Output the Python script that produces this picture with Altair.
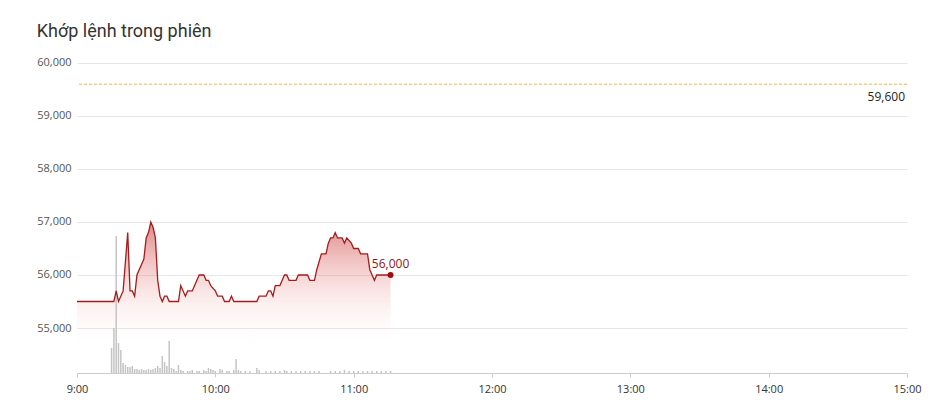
import altair as alt
import pandas as pd

# minutes after 9:00 and matched price
price_minutes = [0, 16, 17, 18, 20, 22, 23, 24, 25, 26, 29, 30, 31, 32, 33, 34, 35, 36, 37, 38, 39, 40,
                 44, 45, 47, 48, 50, 51, 52, 53, 55, 56, 57, 58, 60, 61, 63, 64, 66, 67, 68, 78, 79,
                 82, 83, 84, 85, 86, 88, 89, 90, 91, 92, 95, 96, 100, 101, 103, 104, 106, 108, 109,
                 110, 111, 112, 113, 115, 116, 117, 119, 120, 122, 123, 126, 127, 128, 129, 130, 136]
price_values = [55500, 55500, 55700, 55500, 55700, 56800, 55700, 55700, 55600, 56000, 56300, 56700,
                56800, 57000, 56900, 56700, 55900, 55600, 55500, 55600, 55600, 55500,
                55500, 55800, 55600, 55700, 55700, 55800, 55900, 56000, 56000, 55900, 55900, 55800,
                55700, 55600, 55600, 55500, 55500, 55600, 55500, 55500, 55600,
                55600, 55700, 55700, 55600, 55800, 55800, 55900, 56000, 56000, 55900, 55900, 56000,
                56000, 55900, 55900, 56100, 56400, 56400, 56600,
                56700, 56700, 56800, 56700, 56700, 56600, 56700, 56600, 56500, 56500, 56400, 56400,
                56100, 56000, 55900, 56000, 56000]

# volume per minute (shares)
vol_minutes = [15, 16, 17, 18, 19, 20, 21, 22, 23, 24, 25, 26, 27, 28, 29, 30, 31, 32, 33, 34, 35, 36,
               37, 38, 39, 40, 41, 42, 43, 44, 45, 46, 48, 49, 50, 52, 53, 55, 56, 57, 58, 59, 60,
               62, 63, 65, 66, 68, 69, 70, 71, 73, 75, 78, 79, 82, 84, 86, 88, 90, 91, 93, 95, 97,
               99, 101, 103, 105, 110, 112, 114, 116, 118, 120, 122, 124, 126, 128, 130, 132, 134, 136]
vol_values = [25000, 45000, 137000, 30000, 23000, 10000, 8000, 6000, 6000, 7000, 4000, 4000, 3000,
              4000, 3000, 3000, 4000, 3000, 4000, 5000, 7000, 5000,
              17000, 11000, 7000, 32000, 5000, 4000, 2000, 8000, 3000, 2000, 2000, 2000, 3000, 2000,
              2000, 3000, 2000, 5000, 4000, 3000, 2000,
              4000, 3000, 2000, 2000, 3000, 14000, 3000, 2000, 2000, 2000, 5000, 3000, 2000, 2000,
              2000, 2000, 3000, 2000, 2000, 2000, 2000,
              2000, 2000, 2000, 2000, 2000, 2000, 2000, 3000, 2000, 2000, 2000, 2000, 2000, 2000,
              2000, 2000, 2000, 2000]

ref_price = 59600
y_min, y_max = 54151, 60396
x_tick_minutes = [0, 60, 120, 180, 240, 300, 360]
y_ticks = [55000, 56000, 57000, 58000, 59000, 60000]

price_df = pd.DataFrame({"m": price_minutes, "price": price_values})
vol_df = pd.DataFrame({"m": vol_minutes, "vol": vol_values})
last_df = price_df.tail(1)
ref_df = pd.DataFrame({"price": [ref_price], "m": [360]})

x_scale = alt.Scale(domain=[0, 360], nice=False, padding=0)
y_scale = alt.Scale(domain=[y_min, y_max], nice=False, zero=False)

x_axis = alt.Axis(values=x_tick_minutes,
                  labelExpr="floor(datum.value/60)+9 + ':00'",
                  grid=False, domainColor="#cccccc", tickColor="#cccccc", tickSize=4,
                  labelColor="#333333", labelFontSize=11, labelFont="Open Sans",
                  labelPadding=6, title=None, labelFlush=False)
y_axis = alt.Axis(values=y_ticks, format=",d", grid=True, gridColor="#e6e6e6",
                  ticks=False, domain=False, labelColor="#555555", labelFontSize=11,
                  labelFont="Open Sans", labelPadding=6, title=None)

gradient = alt.Gradient(
    gradient="linear",
    stops=[alt.GradientStop(color="rgba(200,50,50,0.58)", offset=0),
           alt.GradientStop(color="rgba(230,120,120,0.2)", offset=0.45),
           alt.GradientStop(color="rgba(255,255,255,0)", offset=0.85)],
    x1=1, x2=1, y1=0, y2=1)

area = alt.Chart(price_df).mark_area(fill=gradient, stroke=None, opacity=1).encode(
    x=alt.X("m:Q", scale=x_scale, axis=x_axis),
    y=alt.Y("price:Q", scale=y_scale, axis=y_axis),
    y2=alt.datum(y_min),
)

line = alt.Chart(price_df).mark_line(color="#a51c1c", strokeWidth=1.3).encode(
    x=alt.X("m:Q", scale=x_scale),
    y=alt.Y("price:Q", scale=y_scale, axis=None),
)

ref_rule = alt.Chart(ref_df).mark_rule(color="#f5b342", strokeDash=[3, 2], strokeWidth=1).encode(
    y=alt.Y("price:Q", scale=y_scale, axis=None),
)
ref_text = alt.Chart(ref_df).mark_text(align="right", dx=-2, dy=13, fontSize=12,
                                       font="Open Sans", color="#222222").encode(
    x=alt.X("m:Q", scale=x_scale),
    y=alt.Y("price:Q", scale=y_scale, axis=None),
    text=alt.Text("price:Q", format=",d"),
)

dot = alt.Chart(last_df).mark_point(filled=True, size=36, color="#a00d0d", opacity=1).encode(
    x=alt.X("m:Q", scale=x_scale),
    y=alt.Y("price:Q", scale=y_scale, axis=None),
)
dot_text = alt.Chart(last_df).mark_text(dy=-11, fontSize=12, font="Open Sans",
                                        color="#8b1a1a").encode(
    x=alt.X("m:Q", scale=x_scale),
    y=alt.Y("price:Q", scale=y_scale, axis=None),
    text=alt.Text("price:Q", format=",d"),
)

bars = alt.Chart(vol_df).mark_bar(width=1.5, color="#c4c4c4").encode(
    x=alt.X("m:Q", scale=x_scale),
    y=alt.Y("vol:Q", scale=alt.Scale(domain=[0, 331000], nice=False), axis=None),
)

price_area = alt.layer(area)
price_top = alt.layer(ref_rule, ref_text, line, dot, dot_text)

chart = alt.layer(price_area, bars, price_top).resolve_scale(
    y="independent"
).properties(
    width=830,
    height=331,
    autosize=alt.AutoSizeParams(type="none"),
    padding={"left": 69, "top": 34, "right": 16, "bottom": 39},
    title=alt.TitleParams("Khớp lệnh trong phiên", anchor="start", frame="bounds",
                          font="Roboto", fontSize=18, fontWeight="normal",
                          color="#333333", offset=1),
).configure_view(stroke=None)

chart.save("out.html", embed_options={"renderer": "svg", "actions": False})
